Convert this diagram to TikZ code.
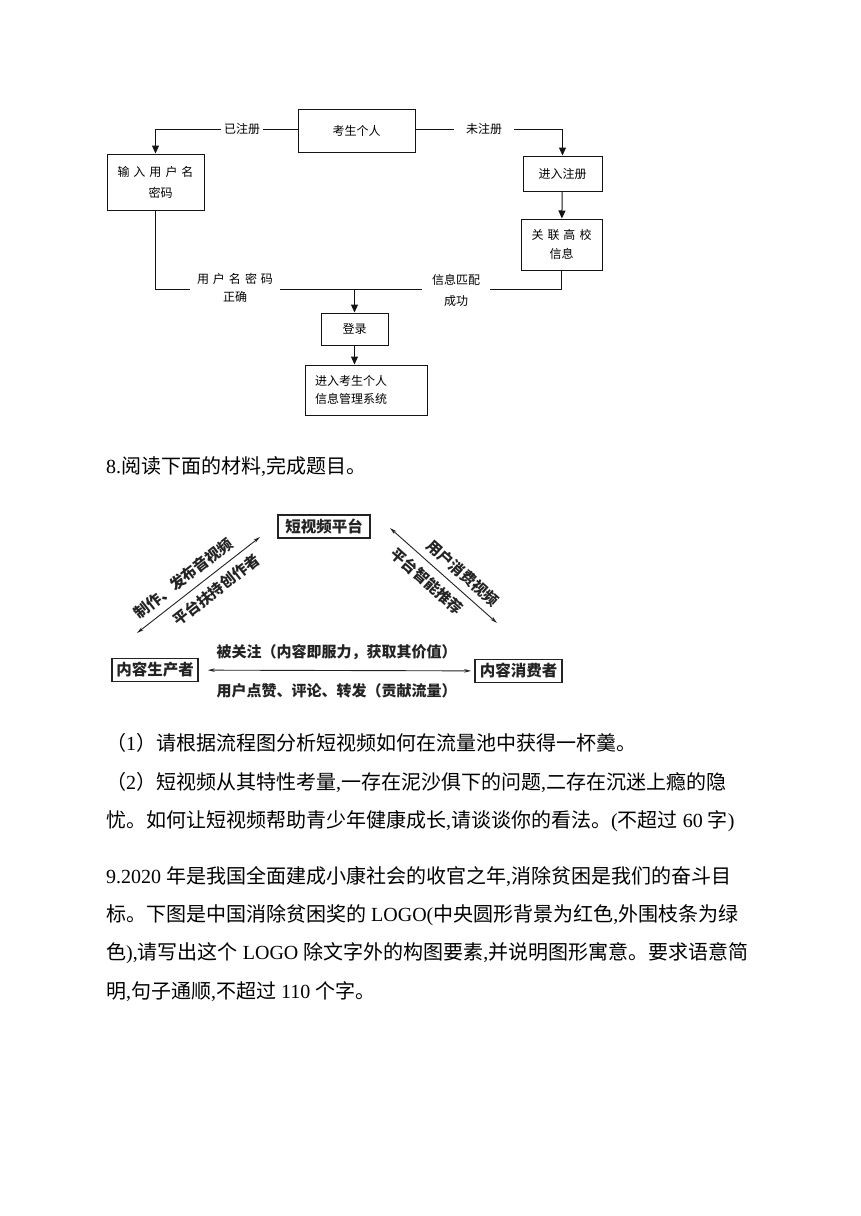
\documentclass[tikz,border=0pt]{standalone}
\usepackage{fontspec}
\setmainfont{Noto Sans CJK SC}
\newfontfamily\latfont{Liberation Serif}
\newcommand{\lat}[1]{{\latfont #1}}
\usetikzlibrary{arrows.meta, positioning, calc}
\definecolor{inkC} {RGB}{ 20,  20,  20}
\definecolor{figC} {RGB}{ 35,  35,  35}
\tikzset{
  box/.style   = {draw=inkC, line width=1pt, inner sep=0pt, align=center,
                  font=\fontsize{12}{19}\selectfont},
  tag/.style   = {inner ysep=1pt, align=center, font=\fontsize{12}{19}\selectfont},
  link/.style  = {draw=inkC, line width=1pt},
  flowarr/.style = {link, -{Triangle[length=8pt, width=7pt]}},
  plat/.style  = {draw=figC, line width=1.6pt, inner sep=0pt, minimum height=23,
                  font=\fontsize{15.5}{18}\selectfont\bfseries, text=figC},
  duo/.style   = {draw=figC, line width=0.9pt,
                  {Stealth[length=7pt, width=3.5pt]}-{Stealth[length=7pt, width=3.5pt]}},
  lab/.style   = {inner sep=1pt, text=figC, font=\fontsize{15}{18}\selectfont\bfseries},
  txt/.style   = {anchor=west, inner sep=0pt, text height=17.6pt, text depth=2.4pt,
                  font=\fontsize{20}{24}\selectfont},
}

\begin{document}
\begin{tikzpicture}[x=1pt, y=-1pt]

% ---- Page -------------------------------------------------------------------
\fill[white] (0,0) rectangle (860,1216);
\useasboundingbox (0,0) rectangle (860,1216);

% ---- Flow chart: login of the candidate ------------------------------------
\node[box, minimum width=117, minimum height=43] (kaosheng) at (356.5,130.5) {考生个人};
\node[box, minimum width=97, minimum height=56, font=\fontsize{12}{21}\selectfont]
  (shuru) at (155.5,182) {输\,\,入\,\,用\,\,户\,\,名\\\hspace*{10pt}密码};
\node[box, minimum width=79, minimum height=35] (jinru) at (562.5,173.5) {进入注册};
\node[box, minimum width=81, minimum height=51] (guanlian) at (561.5,244.5)
  {关\,\,联\,\,高\,\,校\\信息};
\node[box, minimum width=67, minimum height=32] (denglu) at (354.5,329) {登录};
\node[box, text width=102, inner xsep=10, minimum height=50, align=left,
      font=\fontsize{12}{18}\selectfont] (xitong) at (366,390)
  {进入考生个人\\信息管理系统};

% labels sitting in the gaps of the lines
\node[tag, inner xsep=2.5] (yizhuce) at (242,129) {已注册};
\node[tag, inner xsep=12] (weizhuce) at (484,129) {未注册};
\node[tag, inner xsep=7, font=\fontsize{12}{18}\selectfont] (mima) at (235,288)
  {用\,\,户\,\,名\,\,密\,\,码\\正确};
\node[tag, inner xsep=10, font=\fontsize{12}{21}\selectfont] (pipei) at (456,290)
  {信息匹配\\成功};

% connectors
\draw[link] (kaosheng.west |- yizhuce) -- (yizhuce.east);
\draw[flowarr] (yizhuce.west) -| (shuru.north);
\draw[link] (kaosheng.east |- weizhuce) -- (weizhuce.west);
\draw[flowarr] (weizhuce.east) -| (jinru.north);
\draw[flowarr] (jinru) -- (guanlian);
\draw[link] (shuru.south) |- (mima.west |- 0,289);
\draw[link] (mima.east |- 0,289) -- (pipei.west |- 0,289);
\draw[link] (pipei.east |- 0,289) -| (guanlian.south);
\coordinate (hui) at (denglu.north |- 0,289);
\draw[flowarr] (hui) -- (denglu.north);
\draw[flowarr] (denglu.south) -- (denglu.south |- xitong.north);

% ---- Question 8 ---------------------------------------------------------------
\node[txt] (q8) at (106,466) {\lat{8.}阅读下面的材料\lat{,}完成题目。};

% ---- Triangle: short video platform -------------------------------------------
\node[plat, minimum width=92] (pingtai) at (324,526.5) {短视频平台};
\node[plat, minimum width=86] (shengchan) at (155,670) {内容生产者};
\node[plat, minimum width=87] (xiaofei) at (518.5,671) {内容消费者};

\coordinate (zuoxia)   at (137,633);
\coordinate (zuoshang) at (260,537);
\coordinate (youshang) at (390,528);
\coordinate (youxia)   at (497,623);

\draw[duo] (zuoxia) -- (zuoshang)
  node[lab, sloped, above=6pt, pos=0.45] {制作、发布音视频}
  node[lab, sloped, below=6pt, pos=0.57] {平台扶持创作者};
\draw[duo] (youshang) -- (youxia)
  node[lab, sloped, above=6pt, pos=0.59] {用户消费视频}
  node[lab, sloped, below=6pt, pos=0.44] {平台智能推荐};
\draw[duo, shorten <=9pt, shorten >=3pt] (shengchan) -- (xiaofei)
  node[lab, midway, above=9pt] {被关注（内容即服力，获取其价值）}
  node[lab, midway, below=12pt] {用户点赞、评论、转发（贡献流量）};

% ---- Sub-questions and question 9 ---------------------------------------------
\node[txt] (s1) at (106,743) {（\lat{1}）请根据流程图分析短视频如何在流量池中获得一杯羹。};
\node[txt] (s2) at (106,782)
  {（\lat{2}）短视频从其特性考量\lat{,}一存在泥沙俱下的问题\lat{,}二存在沉迷上瘾的隐};
\node[txt] (s3) at (106,820)
  {忧。如何让短视频帮助青少年健康成长\lat{,}请谈谈你的看法。\lat{(}不超过\lat{ 60 }字\lat{)}};
\node[txt] (q9a) at (106,876)
  {\lat{9.2020 }年是我国全面建成小康社会的收官之年\lat{,}消除贫困是我们的奋斗目};
\node[txt] (q9b) at (106,914)
  {标。下图是中国消除贫困奖的\lat{ LOGO(}中央圆形背景为红色\lat{,}外围枝条为绿};
\node[txt] (q9c) at (106,952)
  {色\lat{),}请写出这个\lat{ LOGO }除文字外的构图要素\lat{,}并说明图形寓意。要求语意简};
\node[txt] (q9d) at (106,991) {明\lat{,}句子通顺\lat{,}不超过\lat{ 110 }个字。};

\end{tikzpicture}
\end{document}
